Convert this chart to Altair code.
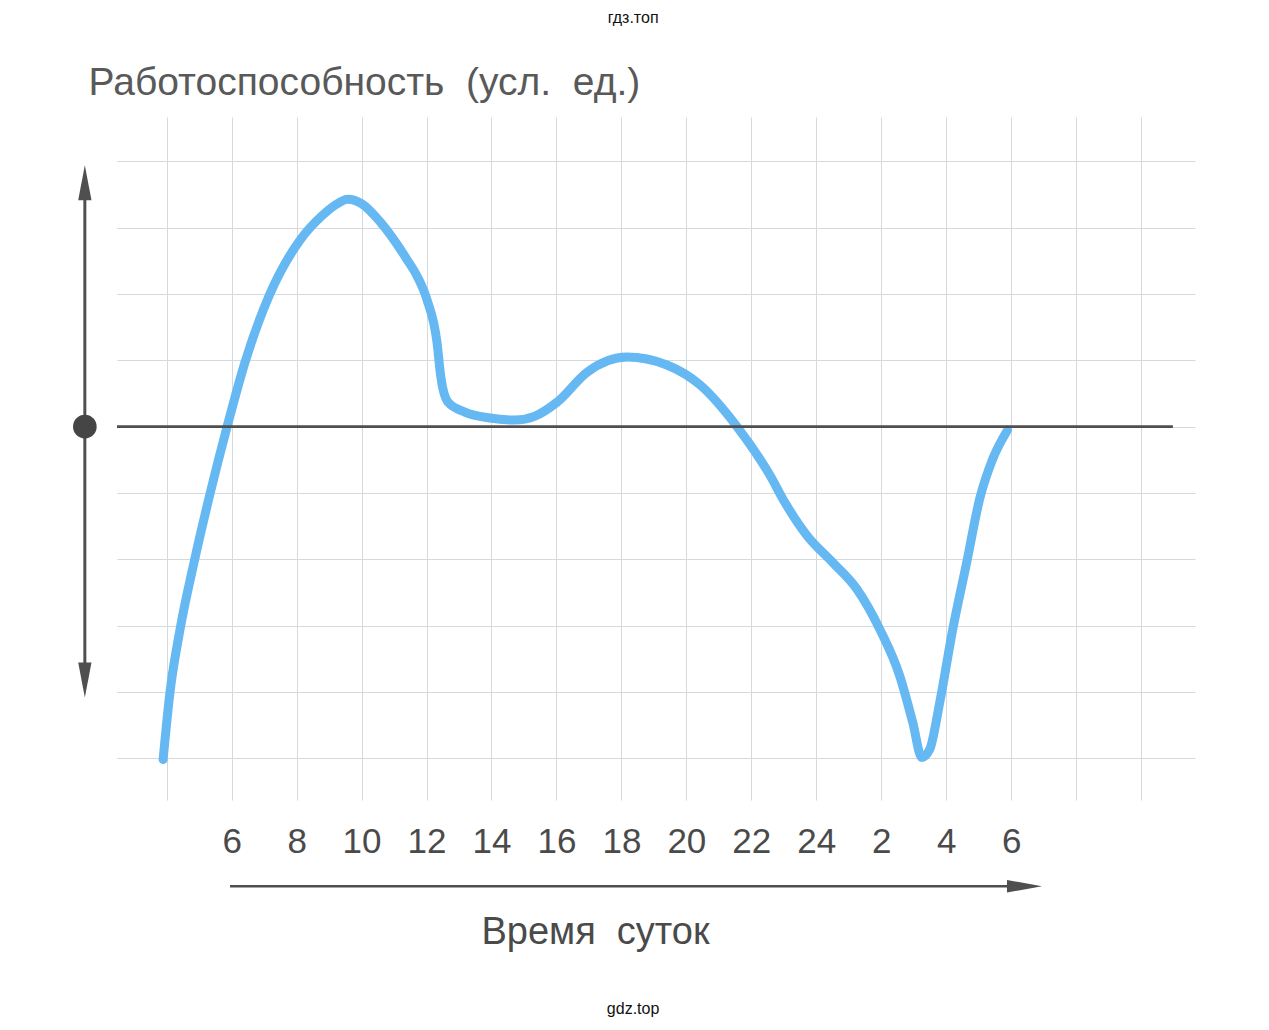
import altair as alt
import pandas as pd

# ---- data ----
# curve: time of day (hours, continuing past 24) and working capacity (conventional units)
hours = [3.89, 4.10, 4.41, 4.84, 5.33, 5.86, 6.41, 7.15, 8.10, 8.78, 9.18, 9.58, 10.01,
         10.57, 11.40, 11.71, 12.01, 12.32, 12.44, 12.66, 13.18, 13.95, 14.72, 15.34,
         16.02, 16.94, 18.17, 19.40, 20.42, 21.56, 22.57, 23.03, 23.71, 24.51, 25.25,
         25.96, 26.57, 26.97, 27.25, 27.49, 27.80, 28.20, 28.63, 29.03, 29.43, 29.89]
values = [-5.02, -4.01, -3.06, -2.05, -1.02, 0.0, 0.97, 1.97, 2.81, 3.18, 3.34, 3.43, 3.36,
          3.09, 2.52, 2.27, 1.92, 1.28, 0.75, 0.37, 0.22, 0.13, 0.10, 0.16,
          0.37, 0.82, 1.05, 0.93, 0.63, 0.0, -0.73, -1.14, -1.64, -2.05, -2.45,
          -3.06, -3.76, -4.46, -4.99, -4.87, -4.16, -3.06, -2.05, -1.09, -0.49, -0.05]

grid_hours = [4, 6, 8, 10, 12, 14, 16, 18, 20, 22, 24, 26, 28, 30, 32, 34]
tick_hours = [6, 8, 10, 12, 14, 16, 18, 20, 22, 24, 26, 28, 30]
tick_labels = ["6", "8", "10", "12", "14", "16", "18", "20", "22", "24", "2", "4", "6"]
grid_values = [-5, -4, -3, -2, -1, 0, 1, 2, 3, 4]

x_domain = [2.47, 35.66]
y_domain = [-5.63, 4.67]

title_y = "Работоспособность\u00a0\u00a0(усл.\u00a0\u00a0ед.)"
title_x = "Время\u00a0\u00a0суток"
watermark_top = "гдз.топ"
watermark_bottom = "gdz.top"

# annotation geometry (in data units)
axis_h = 1.48
v_arrow = [3.6, -3.7]
h_arrow_v = -6.93
h_arrow = [5.95, 30.0]
zero_line = [2.47, 34.98]

curve_df = pd.DataFrame({"hour": hours, "value": values})

TEXT = "#4a4a4a"
DARK = "#4f4f4f"
BLUE = "#66b8f2"
FONT = "Liberation Sans"

label_expr = ("indexof({h}, datum.value) < 0 ? '' : {l}[indexof({h}, datum.value)]"
              .format(h=str(tick_hours), l=str(tick_labels)))

x_scale = alt.Scale(domain=x_domain, nice=False, zero=False)
y_scale = alt.Scale(domain=y_domain, nice=False, zero=False)

x_axis = alt.Axis(values=grid_hours, grid=True, ticks=False, tickSize=0, domain=False,
                  labelExpr=label_expr, labelFontSize=35, labelColor=TEXT, labelFont=FONT,
                  labelPadding=52, labelBaseline="alphabetic", labelFlush=False,
                  labelOverlap=False,
                  title=title_x, titleFontSize=38, titleFontWeight="normal",
                  titleColor=TEXT, titleFont=FONT, titleX=478, titleY=143,
                  titleAlign="center", titleBaseline="alphabetic")
y_axis = alt.Axis(values=grid_values, grid=True, ticks=False, domain=False, labels=False,
                  title=title_y, titleFontSize=39, titleFontWeight="normal",
                  titleColor="#595959", titleFont=FONT, titleAngle=0,
                  titleX=-29, titleY=-23, titleAlign="left", titleBaseline="alphabetic")

X = alt.X("hour:Q", scale=x_scale, axis=x_axis)
Y = alt.Y("value:Q", scale=y_scale, axis=y_axis)

curve = alt.Chart(curve_df).mark_line(
    color=BLUE, strokeWidth=9, interpolate="monotone", strokeCap="round", strokeJoin="round"
).encode(x=X, y=Y)

zero_df = pd.DataFrame({"hour": [zero_line[0]], "hour2": [zero_line[1]], "value": [0.0]})
zero = alt.Chart(zero_df).mark_rule(color=DARK, strokeWidth=2.8).encode(
    x=X, x2="hour2:Q", y=Y)

vline_df = pd.DataFrame({"hour": [axis_h], "value": [v_arrow[0]], "value2": [v_arrow[1]]})
vline = alt.Chart(vline_df).mark_rule(color=DARK, strokeWidth=3).encode(
    x=X, y=Y, y2="value2:Q")

hline_df = pd.DataFrame({"hour": [h_arrow[0]], "hour2": [h_arrow[1]], "value": [h_arrow_v]})
hline = alt.Chart(hline_df).mark_rule(color=DARK, strokeWidth=2.5).encode(
    x=X, x2="hour2:Q", y=Y)

up_df = pd.DataFrame({"hour": [axis_h], "value": [3.68]})
up = alt.Chart(up_df).mark_point(
    shape="M0,-1L0.38,1L-0.38,1Z", size=1225, filled=True, color=DARK, opacity=1
).encode(x=X, y=Y)

down_df = pd.DataFrame({"hour": [axis_h], "value": [-3.82]})
down = alt.Chart(down_df).mark_point(
    shape="M0,1L0.38,-1L-0.38,-1Z", size=1225, filled=True, color=DARK, opacity=1
).encode(x=X, y=Y)

right_df = pd.DataFrame({"hour": [30.41], "value": [h_arrow_v]})
right = alt.Chart(right_df).mark_point(
    shape="M1,0L-1,-0.36L-1,0.36Z", size=1225, filled=True, color=DARK, opacity=1
).encode(x=X, y=Y)

dot_df = pd.DataFrame({"hour": [axis_h], "value": [0.0]})
dot = alt.Chart(dot_df).mark_point(
    shape="circle", size=560, filled=True, color="#454545", opacity=1
).encode(x=X, y=Y)

wm_df = pd.DataFrame({"hour": [18.36, 18.36], "value": [6.17, -8.78],
                      "label": [watermark_top, watermark_bottom]})
wm = alt.Chart(wm_df).mark_text(
    fontSize=16, font=FONT, color="#111111", baseline="middle", align="center"
).encode(x=X, y=Y, text="label:N")

chart = alt.layer(curve, zero, vline, hline, up, down, right, dot, wm).properties(
    width=1078, height=683,
    padding={"left": 109, "top": 109, "right": 60, "bottom": 222},
    autosize=alt.AutoSizeParams(type="none"),
    background="white",
).configure_view(stroke=None).configure_axis(
    gridColor="#d3d9dc", gridWidth=1
)

chart.save("out.html", embed_options={"renderer": "svg", "actions": False})
